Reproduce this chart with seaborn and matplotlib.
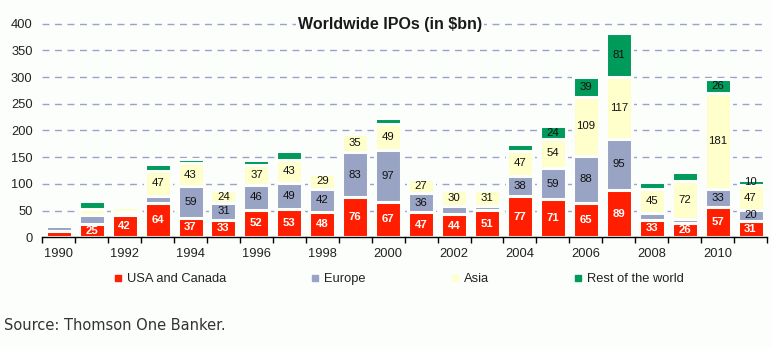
import matplotlib
matplotlib.use("Agg")
import matplotlib.pyplot as plt
import numpy as np
import pandas as pd
import seaborn as sns
from matplotlib.lines import Line2D
from matplotlib.ticker import FixedLocator

# ---------------- data ----------------
years = list(range(1990, 2012))
usa_canada = [12, 25, 42, 64, 37, 33, 52, 53, 48, 76, 67, 47, 44, 51, 77, 71, 65, 89, 33, 26, 57, 31]
europe = [10, 16, 5, 14, 59, 31, 46, 49, 42, 83, 97, 36, 15, 7, 38, 59, 88, 95, 13, 8, 33, 20]
asia = [0, 12, 9, 47, 43, 24, 37, 43, 29, 35, 49, 27, 30, 31, 47, 54, 109, 117, 45, 72, 181, 47]
rest_of_world = [0, 15, 0, 13, 7, 0, 10, 17, 0, 0, 11, 0, 0, 0, 12, 24, 39, 81, 13, 17, 26, 10]
series_names = ["USA and Canada", "Europe", "Asia", "Rest of the world"]
xtick_years = years[::2]
yticks = list(range(0, 401, 50))
title = "Worldwide IPOs (in $bn)"
source = "Source: Thomson One Banker."

# ---------------- style ----------------
colors = ["#ff1f00", "#99a3c4", "#ffffcc", "#009a5b"]
label_colors = ["white", "#111111", "#111111", "#111111"]
bg = "#fcfefc"
W, H = 772, 348

sns.set_theme(style="white")
plt.rcParams["font.family"] = ["Liberation Sans", "DejaVu Sans"]

fig = plt.figure(figsize=(W / 100, H / 100), dpi=100, facecolor=bg)
x0, x1, y0, ytop = 42.3, 767.0, 237.3, 21.0
ax = fig.add_axes([x0 / W, (H - y0) / H, (x1 - x0) / W, (y0 - ytop) / H])
ax.set_facecolor(bg)

values = [usa_canada, europe, asia, rest_of_world]
df = pd.DataFrame({name: vals for name, vals in zip(series_names, values)})
df["year"] = [str(y) for y in years]
cum = df[series_names].cumsum(axis=1)
order = [str(y) for y in years]

# stacked bars: draw cumulative totals from top layer down
for k in reversed(range(len(series_names))):
    pdf = pd.DataFrame({"year": df["year"], "top": cum[series_names[k]]})
    sns.barplot(data=pdf, x="year", y="top", order=order, color=colors[k],
                saturation=1, width=0.79, edgecolor=bg, linewidth=2.2,
                errorbar=None, ax=ax, zorder=2)

# segment labels
for k, name in enumerate(series_names):
    for i, y in enumerate(years):
        v = df[name].iloc[i]
        show = v >= 20 or (y == years[-1] and v > 0)
        if not show:
            continue
        bottom = cum[series_names[k - 1]].iloc[i] if k > 0 else 0
        ax.text(i, bottom + v / 2, str(v), ha="center", va="center",
                fontsize=8.2, color=label_colors[k],
                fontweight="bold" if k == 0 else "normal", zorder=5)

ax.set_xlim(-0.5, len(years) - 0.5)
ax.set_ylim(0, 405)
ax.set_xlabel("")
ax.set_ylabel("")

# grid
ax.set_yticks(yticks)
ax.set_yticklabels([str(t) for t in yticks])
ax.set_axisbelow(True)
ax.yaxis.grid(True, linestyle=(0, (5, 4)), color="#9aa2c8", linewidth=1.0)
ax.xaxis.grid(False)

# x ticks
major_pos = [years.index(y) for y in xtick_years]
ax.xaxis.set_major_locator(FixedLocator(major_pos))
ax.set_xticklabels([str(y) for y in xtick_years])
ax.xaxis.set_minor_locator(FixedLocator(np.arange(-0.5, len(years), 1.0)))
ax.tick_params(axis="x", which="major", length=0, pad=8, labelsize=9.3, labelcolor="#222222")
ax.tick_params(axis="x", which="minor", length=4, width=1.0, color="black", direction="out", bottom=True)
ax.tick_params(axis="y", length=0, pad=7, labelsize=9.3, labelcolor="#222222")

for s in ["top", "right", "left"]:
    ax.spines[s].set_visible(False)
ax.spines["bottom"].set_color("black")
ax.spines["bottom"].set_linewidth(1.0)
ax.spines["bottom"].set_zorder(6)

# title
fig.text(390 / W, (H - 25) / H, title, ha="center", va="center", fontsize=11.5,
         fontweight="bold", color="#1a1a1a", zorder=10,
         bbox=dict(facecolor=bg, edgecolor="none", pad=1.5))

# legend
handles = [Line2D([], [], marker="s", linestyle="none", markersize=4,
                  markerfacecolor=c, markeredgecolor=c) for c in colors]
fig.legend(handles, series_names, loc="center left",
           bbox_to_anchor=(114 / W, (H - 279) / H), ncol=4, frameon=False,
           fontsize=9.3, handlelength=0.6, handletextpad=0.4,
           columnspacing=6.6, borderpad=0, borderaxespad=0,
           labelcolor="#222222")

# source
fig.text(4 / W, (H - 325) / H, source, ha="left", va="center", fontsize=10.5,
         color="#333333", family=["DejaVu Sans"])

fig.savefig("out.png", dpi=100, facecolor=bg)
